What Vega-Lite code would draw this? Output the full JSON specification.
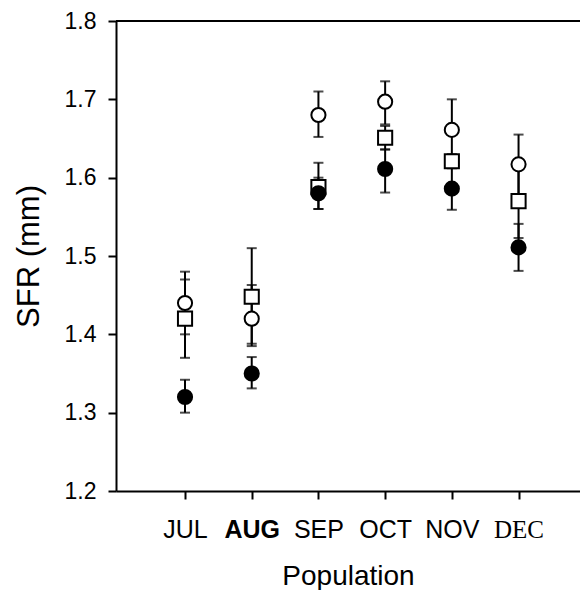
{
  "$schema": "https://vega.github.io/schema/vega-lite/v6.json",
  "width": 464,
  "height": 470,
  "autosize": "none",
  "padding": {"left": 116, "top": 21, "right": 0, "bottom": 99},
  "background": "white",
  "config": {
    "view": {"stroke": null},
    "axis": {
      "domainColor": "black",
      "domainWidth": 2,
      "tickColor": "black",
      "tickWidth": 2,
      "tickSize": 8,
      "labelColor": "black",
      "titleColor": "black",
      "grid": false,
      "labelFont": "Liberation Sans",
      "titleFont": "Liberation Sans",
      "titleFontWeight": "normal"
    }
  },
  "data": {
    "values": [
      {"month": "JUL", "series": "open", "mean": 1.44, "lo": 1.40, "hi": 1.48},
      {"month": "AUG", "series": "open", "mean": 1.42, "lo": 1.385, "hi": 1.463},
      {"month": "SEP", "series": "open", "mean": 1.68, "lo": 1.652, "hi": 1.71},
      {"month": "OCT", "series": "open", "mean": 1.697, "lo": 1.668, "hi": 1.723},
      {"month": "NOV", "series": "open", "mean": 1.661, "lo": 1.622, "hi": 1.70},
      {"month": "DEC", "series": "open", "mean": 1.617, "lo": 1.578, "hi": 1.655},
      {"month": "JUL", "series": "square", "mean": 1.42, "lo": 1.37, "hi": 1.47},
      {"month": "AUG", "series": "square", "mean": 1.448, "lo": 1.388, "hi": 1.51},
      {"month": "SEP", "series": "square", "mean": 1.588, "lo": 1.56, "hi": 1.619},
      {"month": "OCT", "series": "square", "mean": 1.651, "lo": 1.636, "hi": 1.666},
      {"month": "NOV", "series": "square", "mean": 1.621, "lo": 1.612, "hi": 1.63},
      {"month": "DEC", "series": "square", "mean": 1.570, "lo": 1.523, "hi": 1.617},
      {"month": "JUL", "series": "filled", "mean": 1.32, "lo": 1.30, "hi": 1.342},
      {"month": "AUG", "series": "filled", "mean": 1.35, "lo": 1.331, "hi": 1.371},
      {"month": "SEP", "series": "filled", "mean": 1.58, "lo": 1.56, "hi": 1.60},
      {"month": "OCT", "series": "filled", "mean": 1.611, "lo": 1.581, "hi": 1.636},
      {"month": "NOV", "series": "filled", "mean": 1.586, "lo": 1.559, "hi": 1.613},
      {"month": "DEC", "series": "filled", "mean": 1.511, "lo": 1.481, "hi": 1.541}
    ]
  },
  "layer": [
    {
      "mark": {"type": "rule", "color": "black", "strokeWidth": 2},
      "encoding": {
        "y": {"datum": 1.8, "type": "quantitative", "scale": {"domain": [1.2, 1.8], "nice": false, "zero": false}}
      }
    },
    {
      "mark": {"type": "rule", "color": "black", "strokeWidth": 2},
      "encoding": {
        "x": {
          "field": "month", "type": "nominal",
          "sort": ["JUL", "AUG", "SEP", "OCT", "NOV", "DEC"],
          "scale": {"type": "point", "padding": 0.978, "align": 0.529},
          "axis": {
            "title": "Population",
            "titleFontSize": 28,
            "titlePadding": 20,
            "labelFontSize": 25,
            "labelPadding": 18,
            "labelAngle": 0,
            "labelFontWeight": {"condition": {"test": "datum.value === 'AUG'", "value": "bold"}, "value": "normal"},
            "labelFont": {"condition": {"test": "datum.value === 'DEC'", "value": "Liberation Serif"}, "value": "Liberation Sans"}
          }
        },
        "y": {
          "field": "lo", "type": "quantitative",
          "scale": {"domain": [1.2, 1.8], "nice": false, "zero": false},
          "axis": {
            "title": "SFR (mm)",
            "values": [1.2, 1.3, 1.4, 1.5, 1.6, 1.7, 1.8],
            "format": ".1f",
            "labelFontSize": 23,
            "labelPadding": 12,
            "titleFontSize": 31,
            "titlePadding": 19
          }
        },
        "y2": {"field": "hi"}
      }
    },
    {
      "mark": {"type": "tick", "orient": "horizontal", "color": "black", "size": 10, "thickness": 2},
      "encoding": {
        "x": {"field": "month", "type": "nominal", "sort": ["JUL", "AUG", "SEP", "OCT", "NOV", "DEC"]},
        "y": {"field": "lo", "type": "quantitative"}
      }
    },
    {
      "mark": {"type": "tick", "orient": "horizontal", "color": "black", "size": 10, "thickness": 2},
      "encoding": {
        "x": {"field": "month", "type": "nominal", "sort": ["JUL", "AUG", "SEP", "OCT", "NOV", "DEC"]},
        "y": {"field": "hi", "type": "quantitative"}
      }
    },
    {
      "mark": {"type": "point", "filled": true, "size": 200, "stroke": "black", "strokeWidth": 2, "opacity": 1},
      "encoding": {
        "x": {"field": "month", "type": "nominal", "sort": ["JUL", "AUG", "SEP", "OCT", "NOV", "DEC"]},
        "y": {"field": "mean", "type": "quantitative"},
        "shape": {"field": "series", "type": "nominal", "scale": {"domain": ["open", "square", "filled"], "range": ["circle", "square", "circle"]}, "legend": null},
        "fill": {"field": "series", "type": "nominal", "scale": {"domain": ["open", "square", "filled"], "range": ["white", "white", "black"]}, "legend": null}
      }
    }
  ]
}
